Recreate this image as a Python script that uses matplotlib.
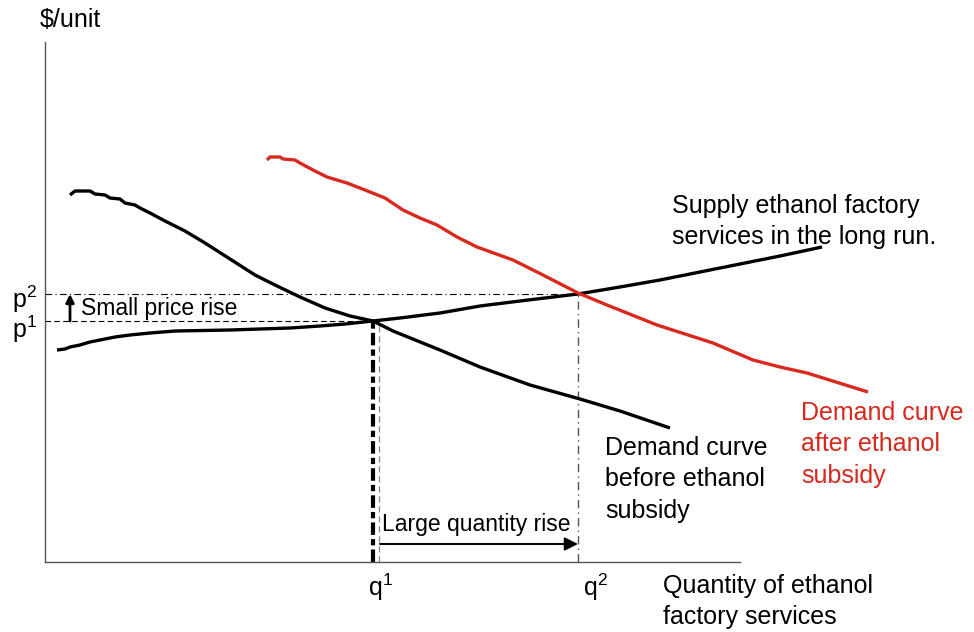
import matplotlib
matplotlib.use("Agg")
import matplotlib.pyplot as plt

plt.rcParams['font.family'] = ['Liberation Sans', 'DejaVu Sans']
plt.rcParams['mathtext.fontset'] = 'custom'
plt.rcParams['mathtext.rm'] = 'Liberation Sans'
plt.rcParams['mathtext.it'] = 'Liberation Sans'

# demand before subsidy (quantity, price) - arbitrary units
demand_q = [25, 30, 45, 50, 60, 65, 75, 80, 90, 95, 105, 120, 140, 160, 185, 210, 230,
            255, 280, 305, 328, 348, 395, 435, 485, 535, 575, 625]
demand_p = [367, 371, 371, 368, 367, 364, 363, 359, 357, 354, 349, 341, 331, 319, 303, 287, 277,
            265, 254, 246, 241, 231, 212, 195, 177, 163, 151, 134]

# long-run supply
supply_q = [12, 20, 25, 35, 45, 55, 70, 85, 105, 130, 185, 245, 275, 300, 328, 355, 395,
            435, 475, 533, 575, 615, 655, 695, 735, 777]
supply_p = [212, 213, 215, 217, 220, 222, 225, 227, 229, 231, 232, 234, 236, 238, 241, 244, 249,
            256, 261, 268, 275, 282, 290, 298, 306, 315]

# demand after subsidy
subsidy_q = [222, 225, 235, 238, 250, 255, 268, 282, 302, 320, 340, 358, 375, 392, 412, 432,
             468, 498, 533, 562, 612, 668, 708, 735, 762, 823]
subsidy_p = [402, 405, 405, 403, 402, 399, 392, 385, 379, 372, 364, 352, 344, 337, 325, 315,
             302, 287, 269, 257, 237, 219, 202, 195, 189, 170]

q1, p1 = 328, 241
q2, p2 = 533, 268

fig = plt.figure(figsize=(9.74, 6.32), dpi=100)
ax = fig.add_axes([45 / 974, 70 / 632, 695 / 974, 520 / 632])
ax.set_xlim(0, 695)
ax.set_ylim(0, 520)
for s in ['top', 'right']:
    ax.spines[s].set_visible(False)
for s in ['left', 'bottom']:
    ax.spines[s].set_color('#555555')
    ax.spines[s].set_linewidth(1.0)
ax.set_xticks([])
ax.set_yticks([])

red = '#d7291e'

# guide lines
ax.plot([0, q2], [p2, p2], color='black', lw=0.8, ls=(0, (6, 3, 1, 3)), clip_on=False)
ax.plot([0, q1], [p1, p1], color='black', lw=0.8, ls=(0, (5, 3)), clip_on=False)
ax.plot([q1, q1], [0, p1], color='black', lw=3.0, ls=(0, (3, 1, 1.5, 1)), clip_on=False)
ax.plot([q1 + 6, q1 + 6], [0, p1], color='#888888', lw=0.9, ls=(0, (5, 3)), clip_on=False)
ax.plot([q2, q2], [0, p2], color='#555555', lw=1.0, ls=(0, (6, 3, 1, 3)), clip_on=False)

# curves
ax.plot(supply_q, supply_p, color='black', lw=2.4, clip_on=False, solid_capstyle='butt')
ax.plot(demand_q, demand_p, color='black', lw=2.4, clip_on=False, solid_capstyle='butt')
ax.plot(subsidy_q, subsidy_p, color=red, lw=2.4, clip_on=False, solid_capstyle='butt')

# arrows
ax.annotate('', xy=(25, p2), xytext=(25, p1),
            arrowprops=dict(arrowstyle='-|>', color='black', lw=2.0, mutation_scale=12,
                            shrinkA=0, shrinkB=0))
ax.annotate('', xy=(q2, 18), xytext=(q1 + 7, 18),
            arrowprops=dict(arrowstyle='-|>', color='black', lw=1.4, mutation_scale=20,
                            shrinkA=0, shrinkB=0))

fs = 18
ls = 1.39
ax.text(36, 253, 'Small price rise', fontsize=16.5, va='center', ha='left')
ax.text(337, 38, 'Large quantity rise', fontsize=16.5, va='center', ha='left')

ax.text(-5, 542, '$/unit', fontsize=fs, va='center', ha='left', clip_on=False)
ax.text(-33, 263, 'p$^{2}$', fontsize=fs, va='center', ha='left', clip_on=False)
ax.text(-33, 233, 'p$^{1}$', fontsize=fs, va='center', ha='left', clip_on=False)
ax.text(q1 - 5, -10, 'q$^{1}$', fontsize=fs, va='top', ha='left', clip_on=False)
ax.text(q2 + 5, -10, 'q$^{2}$', fontsize=fs, va='top', ha='left', clip_on=False)

ax.text(618, -12, 'Quantity of ethanol\nfactory services', fontsize=fs, va='top', ha='left',
        linespacing=ls, clip_on=False)
ax.text(627, 368, 'Supply ethanol factory\nservices in the long run.', fontsize=fs,
        va='top', ha='left', linespacing=ls, clip_on=False)
ax.text(560, 126, 'Demand curve\nbefore ethanol\nsubsidy', fontsize=fs,
        va='top', ha='left', linespacing=ls, clip_on=False)
ax.text(756, 161, 'Demand curve\nafter ethanol\nsubsidy', fontsize=fs, color=red,
        va='top', ha='left', linespacing=ls, clip_on=False)

fig.savefig('out.png', dpi=100)
